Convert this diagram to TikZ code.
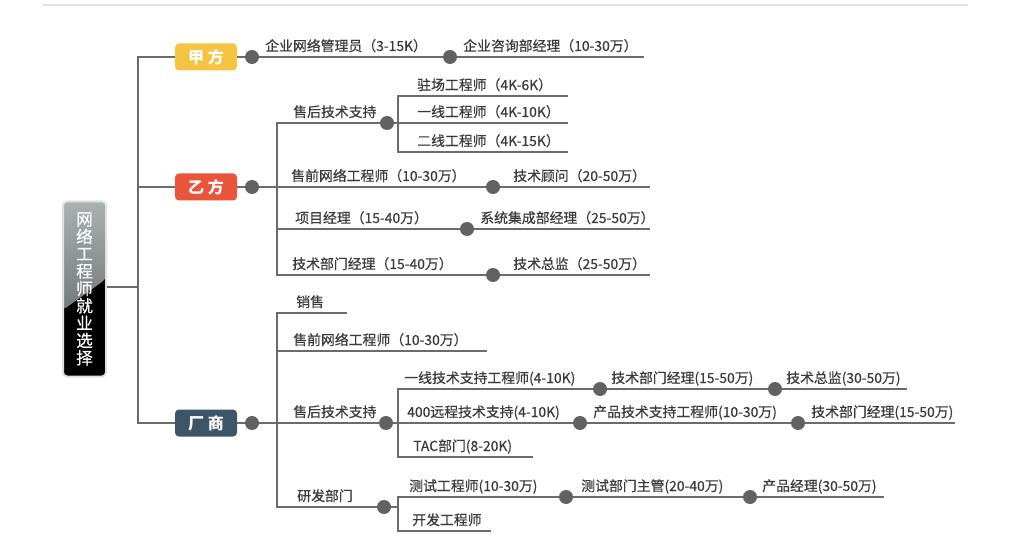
\documentclass[tikz,border=0pt]{standalone}
\usepackage{fontspec}
\setmainfont{Noto Sans CJK SC}
\newfontfamily\leaffont[FakeBold=0.5]{Noto Sans CJK SC}
\usetikzlibrary{positioning}
\definecolor{linegray}{HTML}{6B6B6B}
\definecolor{dotgray}{HTML}{626262}
\definecolor{textgray}{HTML}{3A3A3A}
\definecolor{rulegray}{HTML}{E2E2E2}
\definecolor{jiacol}{HTML}{F5C443}
\definecolor{yicol}{HTML}{E8553A}
\definecolor{changcol}{HTML}{3E5568}
\definecolor{roottop}{HTML}{A9B1B1}
\definecolor{rootmid}{HTML}{737A7A}
\tikzset{
  link/.style={draw=linegray, line width=2pt},
  knot/.style={circle, fill=dotgray, inner sep=0pt, minimum size=10.5pt},
  leaf/.style={anchor=base west, inner sep=0pt, text=textgray, font=\leaffont\fontsize{10.4}{12}\selectfont},
  side/.style={rounded corners=3pt, minimum width=46.5pt, minimum height=20.25pt, inner sep=0pt, text=white, font=\fontsize{12}{13}\selectfont\bfseries},
  rootbox/.style={rounded corners=3pt, draw=black!12, line width=1.5pt, minimum width=32.25pt, minimum height=131.25pt, inner sep=0pt, align=center, text=white, font=\leaffont\fontsize{12.5}{13}\selectfont,
    path picture={
      \fill[black] (path picture bounding box.south west) rectangle (path picture bounding box.north east);
      \shade[top color=roottop, bottom color=rootmid] (path picture bounding box.north west) -- (path picture bounding box.north east) -- ([yshift=7.5pt]path picture bounding box.east) -- ([yshift=-15.75pt]path picture bounding box.west) -- cycle;
    }},
}
\begin{document}
\begin{tikzpicture}[x=0.75pt, y=-0.75pt]
\useasboundingbox (0,0) rectangle (1027,559);
\draw[rulegray, line width=1.5pt] (43,5) -- (968,5);
\node[rootbox] (root) at (84.5,289) {网\\络\\工\\程\\师\\就\\业\\选\\择};
\coordinate (trunk) at (138,287);
\node[side, fill=jiacol] (jia) at (206,57) {甲 方};
\node[side, fill=yicol] (yi) at (206,187) {乙 方};
\node[side, fill=changcol] (chang) at (206,423) {厂 商};
\draw[link] (root.east |- trunk) -- (trunk);
\draw[link] (jia) -| (trunk) |- (chang);
\draw[link] (yi) -- (yi -| trunk);
\node[knot] (jd) at (252,57) {};
\node[knot] (jd2) at (450,57) {};
\coordinate (je) at (644,57);
\draw[link] (jia) -- (jd) -- (jd2) -- (je);
\node[leaf] (jl1) at (265,51) {企业网络管理员（3-15K）};
\node[leaf] (jl2) at (463,51) {企业咨询部经理（10-30万）};
\node[knot] (yd) at (252,187) {};
\coordinate (yv) at (277,187);
\node[knot] (ysd) at (387,123) {};
\node[knot] (yqd) at (493,187) {};
\node[knot] (ypd) at (467,229) {};
\node[knot] (ytd) at (493,275) {};
\coordinate (ysv) at (398,123);
\coordinate (yse1) at (568,96);
\coordinate (yse2) at (568,123);
\coordinate (yse3) at (568,152);
\coordinate (yqe) at (650,187);
\coordinate (ype) at (650,229);
\coordinate (yte) at (650,275);
\draw[link] (yi) -- (yd) -- (yv) -- (yqd) -- (yqe);
\draw[link] (yv) |- (ysd) -- (ysv);
\draw[link] (yv) |- (ypd) -- (ype);
\draw[link] (yv) |- (ytd) -- (yte);
\draw[link] (ysv) |- (yse1);
\draw[link] (ysv) -- (yse2);
\draw[link] (ysv) |- (yse3);
\node[leaf] (ysl) at (293,117) {售后技术支持};
\node[leaf] (ysl1) at (417,90) {驻场工程师（4K-6K）};
\node[leaf] (ysl2) at (417,117) {一线工程师（4K-10K）};
\node[leaf] (ysl3) at (417,146) {二线工程师（4K-15K）};
\node[leaf] (yql) at (291,181) {售前网络工程师（10-30万）};
\node[leaf] (yql2) at (513,181) {技术顾问（20-50万）};
\node[leaf] (ypl) at (295,223) {项目经理（15-40万）};
\node[leaf] (ypl2) at (480,223) {系统集成部经理（25-50万）};
\node[leaf] (ytl) at (292,269) {技术部门经理（15-40万）};
\node[leaf] (ytl2) at (513,269) {技术总监（25-50万）};
\node[knot] (cd) at (252,423) {};
\coordinate (cv) at (277,423);
\coordinate (cxe) at (347,313);
\coordinate (cqe) at (487,351);
\node[knot] (csd) at (386,423) {};
\coordinate (csv) at (398,423);
\node[knot] (c1d) at (600,389) {};
\node[knot] (c1d2) at (775,389) {};
\coordinate (c1e) at (907,389);
\node[knot] (c2d) at (580,423) {};
\node[knot] (c2d2) at (798,423) {};
\coordinate (c2e) at (955,423);
\coordinate (c3e) at (533,457);
\node[knot] (crd) at (384,507) {};
\coordinate (crv) at (398,507);
\node[knot] (cr1d) at (566,497) {};
\node[knot] (cr1d2) at (750,497) {};
\coordinate (cr1e) at (884,497);
\coordinate (cr2e) at (491,531);
\draw[link] (chang) -- (cd) -- (cv) -- (csd) -- (csv) -- (c2d) -- (c2d2) -- (c2e);
\draw[link] (cv) |- (cxe);
\draw[link] (cv) |- (cqe);
\draw[link] (cv) |- (crd) -- (crv);
\draw[link] (csv) |- (c1d) -- (c1d2) -- (c1e);
\draw[link] (csv) |- (c3e);
\draw[link] (crv) |- (cr1d) -- (cr1d2) -- (cr1e);
\draw[link] (crv) |- (cr2e);
\node[leaf] (cxl) at (296,307) {销售};
\node[leaf] (cql) at (293,345) {售前网络工程师（10-30万）};
\node[leaf] (csl) at (293,417) {售后技术支持};
\node[leaf] (c1l) at (404,383) {一线技术支持工程师(4-10K)};
\node[leaf] (c1l2) at (611,383) {技术部门经理(15-50万)};
\node[leaf] (c1l3) at (786,383) {技术总监(30-50万)};
\node[leaf] (c2l) at (407,417) {400远程技术支持(4-10K)};
\node[leaf] (c2l2) at (593,417) {产品技术支持工程师(10-30万)};
\node[leaf] (c2l3) at (811,417) {技术部门经理(15-50万)};
\node[leaf] (c3l) at (413,451) {TAC部门(8-20K)};
\node[leaf] (crl) at (297,501) {研发部门};
\node[leaf] (cr1l) at (409,491) {测试工程师(10-30万)};
\node[leaf] (cr1l2) at (581,491) {测试部门主管(20-40万)};
\node[leaf] (cr1l3) at (762,491) {产品经理(30-50万)};
\node[leaf] (cr2l) at (412,525) {开发工程师};
\end{tikzpicture}
\end{document}
